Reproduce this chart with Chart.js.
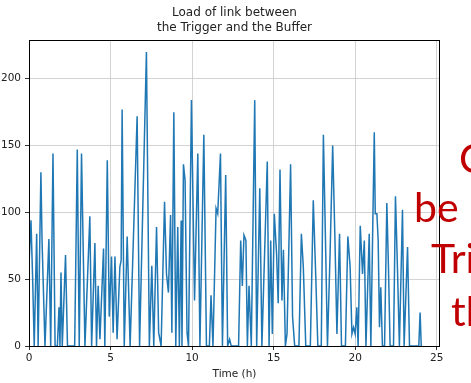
<!DOCTYPE html>
<html>
<head>
<meta charset="utf-8">
<script src="https://cdn.jsdelivr.net/npm/chart.js@4.4.0/dist/chart.umd.min.js"></script>
<style>
  html, body { margin: 0; padding: 0; background: #fff; }
  #wrap { position: relative; width: 471px; height: 383px; overflow: hidden; }
  canvas { position: absolute; left: 0; top: 0; }
  .red { position: absolute; color: #c00000; font-family: Lato, "DejaVu Sans", sans-serif;
         font-size: 41px; line-height: 41px; white-space: nowrap; }
</style>
</head>
<body>
<div id="wrap">
  <canvas id="c" width="471" height="383"></canvas>
  <div class="red" style="left:459px; top:137px;">C</div>
  <div class="red" style="left:414px; top:186px;">be</div>
  <div class="red" style="left:431px; top:237px;">Tri</div>
  <div class="red" style="left:451px; top:290px;">th</div>
</div>
<script>
const titleLines = ["Load of link between", "the Trigger and the Buffer"];
const xLabel = "Time (h)";
const xTicks = [0, 5, 10, 15, 20, 25];
const yTicks = [0, 50, 100, 150, 200];

const hours = [
  0.00, 0.12, 0.22, 0.32, 0.47, 0.56, 0.73, 0.80, 0.98, 1.22, 1.33, 1.47, 1.60, 1.74, 1.84, 1.90,
  1.96, 2.04, 2.24, 2.36, 2.80, 2.96, 3.08, 3.22, 3.43, 3.73, 3.84, 4.04, 4.14, 4.24, 4.35, 4.57,
  4.65, 4.80, 4.92, 5.06, 5.16, 5.27, 5.40, 5.57, 5.65, 5.71, 5.84, 6.02, 6.20, 6.63, 6.78, 7.20,
  7.38, 7.53, 7.65, 7.82, 7.95, 8.10, 8.31, 8.43, 8.55, 8.68, 8.76, 8.88, 9.00, 9.12, 9.22, 9.33,
  9.38, 9.47, 9.57, 9.69, 9.78, 9.96, 10.15, 10.35, 10.48, 10.72, 10.88, 11.06, 11.16, 11.28, 11.47, 11.57,
  11.74, 11.86, 12.06, 12.18, 12.30, 12.40, 12.85, 12.98, 13.08, 13.18, 13.30, 13.39, 13.49, 13.63, 13.84, 13.96,
  14.15, 14.28, 14.61, 14.72, 14.82, 14.92, 15.04, 15.18, 15.28, 15.39, 15.51, 15.60, 15.72, 15.82, 16.04, 16.16,
  16.29, 16.55, 16.70, 16.82, 16.97, 17.25, 17.43, 17.59, 17.71, 17.92, 18.05, 18.19, 18.30, 18.46, 18.62, 18.76,
  18.88, 19.04, 19.16, 19.40, 19.55, 19.69, 19.80, 19.90, 20.00, 20.10, 20.18, 20.31, 20.45, 20.56, 20.66, 20.86,
  20.96, 21.17, 21.23, 21.33, 21.41, 21.49, 21.57, 21.67, 21.80, 21.94, 22.04, 22.14, 22.35, 22.47, 22.59, 22.71,
  22.90, 23.00, 23.21, 23.33, 23.90, 23.98, 24.05
];
const load = [
  60, 94, 52, 0, 84, 0, 130, 79, 0, 80, 0, 144, 0, 0, 29, 0,
  55, 0, 68, 0, 0, 147, 0, 144, 0, 97, 0, 77, 0, 45, 5, 73,
  0, 139, 22, 67, 10, 67, 5, 59, 64, 177, 0, 82, 0, 172, 0, 220,
  0, 60, 0, 89, 10, 0, 108, 54, 40, 98, 10, 175, 0, 89, 0, 94,
  0, 136, 124, 10, 0, 184, 34, 144, 0, 158, 0, 0, 38, 0, 103, 99,
  144, 0, 128, 0, 5, 0, 0, 79, 45, 83, 79, 0, 45, 0, 184, 0,
  118, 0, 138, 0, 79, 9, 99, 69, 32, 132, 34, 72, 0, 9, 136, 22,
  0, 0, 84, 59, 0, 0, 109, 49, 0, 0, 158, 72, 0, 69, 150, 79,
  9, 84, 0, 0, 82, 59, 9, 14, 9, 29, 0, 90, 54, 79, 0, 84,
  0, 160, 99, 99, 79, 14, 44, 0, 0, 107, 59, 0, 0, 112, 59, 0,
  102, 0, 74, 0, 0, 25, 0
];

Chart.defaults.font.family = "'DejaVu Sans', sans-serif";
Chart.defaults.color = '#000';

const centerTitle = {
  id: 'centerTitle',
  afterLayout(chart) {
    const t = chart.titleBlock;
    if (t) {
      t.left = chart.chartArea.left;
      t.right = chart.chartArea.right;
      t.width = t.right - t.left;
    }
  }
};
const frame = {
  id: 'frame',
  afterDatasetsDraw(chart) {
    const {ctx, chartArea: a} = chart;
    ctx.save();
    ctx.strokeStyle = '#000';
    ctx.lineWidth = 1;
    ctx.strokeRect(Math.round(a.left) + 0.5, Math.round(a.top) + 0.5,
                   Math.round(a.right - a.left) - 1, Math.round(a.bottom - a.top));
    ctx.restore();
  }
};

new Chart(document.getElementById('c'), {
  type: 'line',
  data: {
    datasets: [{
      data: hours.map((h, i) => ({x: h, y: load[i]})),
      borderColor: '#1f77b4',
      borderWidth: 1.5,
      pointRadius: 0,
      tension: 0,
      fill: false
    }]
  },
  options: {
    responsive: false,
    animation: false,
    layout: { padding: { left: 0, right: 31, top: 0, bottom: 0 } },
    plugins: {
      legend: { display: false },
      tooltip: { enabled: false },
      title: {
        display: true,
        text: titleLines,
        color: '#222',
        font: { size: 12, weight: 'normal', lineHeight: 1.25 },
        padding: { top: 5, bottom: 5 }
      }
    },
    scales: {
      x: {
        type: 'linear',
        min: 0,
        max: 25.2,
        afterBuildTicks(s) { s.ticks = xTicks.map(v => ({value: v})); },
        afterFit(s) { s.height = 37; },
        ticks: { font: { size: 10.5 }, padding: 2, maxRotation: 0, color: '#222' },
        grid: { color: '#c8c8c8', lineWidth: 0.8, tickColor: '#000', tickLength: 4 },
        border: { display: false },
        title: { display: true, text: xLabel, font: { size: 10.5 }, color: '#222', padding: { top: 0, bottom: 2 } }
      },
      y: {
        min: 0,
        max: 229,
        afterBuildTicks(s) { s.ticks = yTicks.map(v => ({value: v})); },
        afterFit(s) { s.width = 29; },
        ticks: { font: { size: 10.5 }, padding: 4, color: '#222' },
        grid: { color: '#c8c8c8', lineWidth: 0.8, tickColor: '#000', tickLength: 4 },
        border: { display: false }
      }
    }
  },
  plugins: [centerTitle, frame]
});
</script>
</body>
</html>
